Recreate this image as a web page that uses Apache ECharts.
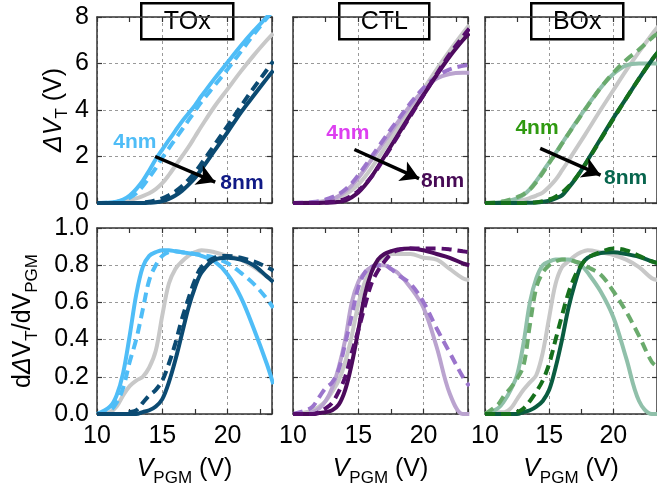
<!DOCTYPE html>
<html>
<head>
<meta charset="utf-8">
<script src="https://cdn.jsdelivr.net/npm/echarts@6/dist/echarts.min.js"></script>
<style>
  html, body { margin: 0; padding: 0; background: #fff; }
  #main { width: 657px; height: 491px; }
</style>
</head>
<body>
<div id="main"></div>
<script>
// programming voltage grid (V)
var X = [10, 11, 11.5, 12, 12.5, 13, 13.5, 14, 14.5, 15, 15.5, 16, 16.5, 17, 17.5, 18, 19, 20, 21, 22, 23, 23.5];

// TOx: delta VT (top) and d(delta VT)/dVPGM (bottom)
var toxRefTop = [0, 0, 0.02, 0.05, 0.12, 0.2, 0.3, 0.42, 0.6, 0.85, 1.2, 1.6, 2.0, 2.4, 2.85, 3.3, 4.15, 4.9, 5.65, 6.35, 7.0, 7.3];
var tox4Top   = [0, 0.02, 0.06, 0.15, 0.32, 0.6, 0.95, 1.4, 1.88, 2.3, 2.7, 3.1, 3.5, 3.85, 4.2, 4.6, 5.35, 6.05, 6.75, 7.4, 8.0, 8.3];
var tox4TopD  = [0, 0.01, 0.04, 0.1, 0.22, 0.42, 0.72, 1.1, 1.5, 1.95, 2.35, 2.75, 3.15, 3.55, 3.95, 4.35, 5.05, 5.75, 6.5, 7.25, 7.95, 8.3];
var tox8Top   = [0, 0, 0, 0, 0, 0, 0, 0.01, 0.03, 0.08, 0.18, 0.32, 0.52, 0.78, 1.08, 1.45, 2.25, 3.05, 3.88, 4.62, 5.35, 5.7];
var tox8TopD  = [0, 0, 0, 0, 0, 0, 0.02, 0.05, 0.12, 0.2, 0.33, 0.5, 0.72, 1.0, 1.32, 1.7, 2.5, 3.32, 4.15, 4.95, 5.72, 6.1];
var toxRefBot = [0, 0.01, 0.04, 0.1, 0.15, 0.18, 0.2, 0.25, 0.34, 0.53, 0.7, 0.78, 0.82, 0.85, 0.87, 0.88, 0.87, 0.85, 0.83, 0.79, 0.74, 0.72];
var tox4Bot   = [0, 0.04, 0.1, 0.22, 0.42, 0.64, 0.79, 0.85, 0.87, 0.88, 0.88, 0.875, 0.87, 0.865, 0.86, 0.85, 0.82, 0.75, 0.63, 0.46, 0.27, 0.16];
var tox4BotD  = [0, 0.02, 0.06, 0.14, 0.28, 0.4, 0.56, 0.72, 0.8, 0.85, 0.87, 0.875, 0.87, 0.865, 0.86, 0.855, 0.84, 0.81, 0.76, 0.7, 0.62, 0.57];
var tox8Bot   = [0, 0, 0, 0, 0, 0, 0.01, 0.02, 0.04, 0.08, 0.17, 0.29, 0.43, 0.57, 0.68, 0.76, 0.83, 0.84, 0.83, 0.8, 0.74, 0.71];
var tox8BotD  = [0, 0, 0, 0, 0.01, 0.02, 0.06, 0.1, 0.13, 0.18, 0.27, 0.38, 0.51, 0.62, 0.72, 0.79, 0.84, 0.85, 0.84, 0.82, 0.79, 0.77];

// CTL
var ctlRefTop = [0, 0.01, 0.03, 0.05, 0.1, 0.15, 0.25, 0.38, 0.55, 0.8, 1.12, 1.5, 1.92, 2.35, 2.78, 3.2, 4.05, 4.9, 5.75, 6.55, 7.3, 7.65];
var ctl4Top   = [0, 0.01, 0.02, 0.04, 0.08, 0.15, 0.3, 0.5, 0.75, 1.08, 1.45, 1.85, 2.25, 2.65, 3.05, 3.45, 4.2, 4.85, 5.35, 5.55, 5.6, 5.6];
var ctl4TopD  = [0, 0.02, 0.04, 0.08, 0.15, 0.25, 0.38, 0.58, 0.85, 1.2, 1.58, 1.98, 2.38, 2.78, 3.18, 3.55, 4.3, 4.95, 5.45, 5.75, 5.9, 5.95];
var ctl8Top   = [0, 0, 0, 0, 0.01, 0.02, 0.05, 0.1, 0.25, 0.45, 0.75, 1.12, 1.55, 2.0, 2.45, 2.9, 3.8, 4.65, 5.5, 6.3, 7.0, 7.3];
var ctl8TopD  = [0, 0, 0, 0, 0.02, 0.05, 0.1, 0.18, 0.32, 0.52, 0.8, 1.12, 1.5, 1.95, 2.4, 2.85, 3.75, 4.65, 5.55, 6.4, 7.15, 7.5];
var ctlRefBot = [0, 0.01, 0.02, 0.04, 0.07, 0.12, 0.18, 0.28, 0.42, 0.59, 0.71, 0.78, 0.82, 0.85, 0.86, 0.86, 0.86, 0.84, 0.83, 0.78, 0.73, 0.72];
var ctl4Bot   = [0, 0, 0.01, 0.03, 0.07, 0.14, 0.25, 0.4, 0.6, 0.71, 0.76, 0.79, 0.8, 0.8, 0.78, 0.76, 0.68, 0.57, 0.36, 0.11, 0, 0];
var ctl4BotD  = [0, 0.02, 0.04, 0.09, 0.14, 0.17, 0.24, 0.38, 0.53, 0.68, 0.76, 0.79, 0.8, 0.8, 0.78, 0.75, 0.7, 0.6, 0.46, 0.33, 0.2, 0.15];
var ctl8Bot   = [0, 0, 0, 0.005, 0.01, 0.02, 0.05, 0.13, 0.27, 0.45, 0.64, 0.76, 0.83, 0.86, 0.875, 0.885, 0.89, 0.88, 0.86, 0.84, 0.81, 0.8];
var ctl8BotD  = [0, 0, 0, 0.01, 0.03, 0.06, 0.12, 0.2, 0.33, 0.45, 0.58, 0.7, 0.77, 0.82, 0.86, 0.88, 0.89, 0.89, 0.89, 0.885, 0.875, 0.87];

// BOx
var boxRefTop = [0, 0, 0.01, 0.03, 0.07, 0.13, 0.22, 0.32, 0.45, 0.7, 1.0, 1.4, 1.82, 2.25, 2.68, 3.12, 4.0, 4.85, 5.7, 6.5, 7.25, 7.6];
var box4Top   = [0, 0.02, 0.06, 0.12, 0.2, 0.35, 0.6, 0.95, 1.35, 1.75, 2.15, 2.57, 2.98, 3.4, 3.8, 4.2, 4.95, 5.55, 5.92, 6.0, 6.0, 6.0];
var box4TopD  = [0, 0.03, 0.08, 0.15, 0.25, 0.38, 0.58, 0.9, 1.3, 1.72, 2.12, 2.55, 2.97, 3.38, 3.78, 4.18, 4.95, 5.6, 6.15, 6.6, 7.1, 7.3];
var box8Top   = [0, 0, 0, 0, 0, 0, 0.01, 0.02, 0.05, 0.1, 0.2, 0.33, 0.65, 1.0, 1.4, 1.85, 2.75, 3.65, 4.5, 5.35, 6.15, 6.5];
var box8TopD  = [0, 0, 0, 0, 0, 0, 0.01, 0.03, 0.08, 0.15, 0.27, 0.45, 0.7, 1.02, 1.4, 1.82, 2.72, 3.62, 4.5, 5.35, 6.15, 6.5];
var boxRefBot = [0, 0.01, 0.01, 0.03, 0.08, 0.13, 0.17, 0.21, 0.33, 0.52, 0.7, 0.79, 0.82, 0.85, 0.87, 0.88, 0.87, 0.855, 0.83, 0.79, 0.73, 0.72];
var box4Bot   = [0, 0.03, 0.07, 0.13, 0.21, 0.38, 0.6, 0.73, 0.8, 0.82, 0.83, 0.83, 0.83, 0.82, 0.8, 0.76, 0.66, 0.52, 0.3, 0.07, 0, 0];
var box4BotD  = [0, 0.05, 0.1, 0.14, 0.19, 0.26, 0.48, 0.68, 0.76, 0.8, 0.82, 0.83, 0.83, 0.82, 0.81, 0.79, 0.75, 0.66, 0.55, 0.42, 0.28, 0.25];
var box8Bot   = [0, 0, 0, 0, 0, 0.01, 0.02, 0.04, 0.07, 0.13, 0.25, 0.4, 0.57, 0.7, 0.8, 0.84, 0.865, 0.87, 0.86, 0.845, 0.82, 0.81];
var box8BotD  = [0, 0, 0, 0, 0.01, 0.03, 0.07, 0.12, 0.18, 0.27, 0.4, 0.53, 0.65, 0.74, 0.8, 0.84, 0.87, 0.89, 0.88, 0.85, 0.82, 0.81];

var titles = ['TOx', 'CTL', 'BOx'];

var panels = [
  { ref: [toxRefTop, toxRefBot], t4: [tox4Top, tox4Bot], t4d: [tox4TopD, tox4BotD], t8: [tox8Top, tox8Bot], t8d: [tox8TopD, tox8BotD],
    c4: '#4fbdf7', c4d: '#4fbdf7', c8: '#0b4a72', c8d: '#0b4a72', lab4: '#4fbdf7', lab8: '#101a86',
    arrow: [[14.45, 2.0], [19.05, 0.9]], p4: [12.9, 2.6], p8: [21.1, 0.85] },
  { ref: [ctlRefTop, ctlRefBot], t4: [ctl4Top, ctl4Bot], t4d: [ctl4TopD, ctl4BotD], t8: [ctl8Top, ctl8Bot], t8d: [ctl8TopD, ctl8BotD],
    c4: '#baa3cf', c4d: '#9b74cc', c8: '#4c0a5c', c8d: '#560d6c', lab4: '#dd3ff0', lab8: '#470a55',
    arrow: [[14.7, 2.3], [19.65, 1.05]], p4: [14.2, 3.0], p8: [21.45, 0.92] },
  { ref: [boxRefTop, boxRefBot], t4: [box4Top, box4Bot], t4d: [box4TopD, box4BotD], t8: [box8Top, box8Bot], t8d: [box8TopD, box8BotD],
    c4: '#90c0aa', c4d: '#6aaa6c', c8: '#0a5c40', c8d: '#16701c', lab4: '#2f9a10', lab8: '#07654d',
    arrow: [[14.3, 2.35], [19.0, 1.2]], p4: [14.05, 3.2], p8: [20.95, 1.06] }
];

var lefts = [97, 293, 485];
var W = 175, H = 186;
var FONT = 'Liberation Sans, Arial, sans-serif';

var myChart = echarts.init(document.getElementById('main'));

var grid = [], xAxis = [], yAxis = [], series = [], graphic = [];

function pairs(arr) {
  return X.map(function (x, k) { return [x, arr[k]]; });
}

var nameRich = {
  i: { fontSize: 25, fontStyle: 'italic', fontFamily: FONT, color: '#000', lineHeight: 30, verticalAlign: 'top' },
  s: { fontSize: 17, fontFamily: FONT, color: '#000', lineHeight: 18, verticalAlign: 'bottom' },
  n: { fontSize: 25, fontFamily: FONT, color: '#000', lineHeight: 30, verticalAlign: 'top' }
};

for (var r = 0; r < 2; r++) {
  for (var c = 0; c < 3; c++) {
    var g = r * 3 + c;
    grid.push({ left: lefts[c], top: r === 0 ? 17 : 228, width: W, height: H });
    var bottomRow = r === 1;
    // main x axis: labels + split lines
    xAxis.push({
      type: 'value', gridIndex: g, min: 10, max: 23.4, interval: 5, position: 'bottom',
      axisLine: { show: true, lineStyle: { color: '#333', width: 1.5 } },
      axisTick: { show: false },
      axisLabel: { show: bottomRow, showMaxLabel: false, color: '#000', fontSize: 25, fontFamily: FONT, margin: 10 },
      splitLine: { show: true, lineStyle: { color: '#999', type: [3, 3], width: 1 } },
      name: bottomRow ? '{i|V}{s|PGM}{n| (V)}' : '',
      nameLocation: 'middle', nameGap: 43,
      nameTextStyle: { rich: nameRich }
    });
    // minor ticks bottom
    xAxis.push({
      type: 'value', gridIndex: g, min: 10, max: 23.4, interval: 2.5, position: 'bottom',
      axisLine: { show: false }, axisLabel: { show: false }, splitLine: { show: false },
      axisTick: { show: true, inside: true, length: 5, lineStyle: { color: '#333', width: 1.2 } }
    });
    // mirror top
    xAxis.push({
      type: 'value', gridIndex: g, min: 10, max: 23.4, interval: 2.5, position: 'top',
      axisLine: { show: true, lineStyle: { color: '#333', width: 1.5 } },
      axisLabel: { show: false }, splitLine: { show: false },
      axisTick: { show: true, inside: true, length: 5, lineStyle: { color: '#333', width: 1.2 } }
    });

    var first = c === 0;
    var yName = '';
    if (first && !bottomRow) yName = '{i|ΔV}{s|T}{n| (V)}';
    if (first && bottomRow) yName = '{n|d}{i|Δ}{n|V}{s|T}{n|/dV}{s|PGM}';
    yAxis.push({
      type: 'value', gridIndex: g, min: 0, max: bottomRow ? 1 : 8, interval: bottomRow ? 0.2 : 2, position: 'left',
      axisLine: { show: true, lineStyle: { color: '#333', width: 1.5 } },
      axisTick: { show: true, inside: true, length: 5, lineStyle: { color: '#333', width: 1.2 } },
      axisLabel: {
        show: first, color: '#000', fontSize: 25, fontFamily: FONT, margin: 8,
        formatter: bottomRow ? function (v) { return v.toFixed(1); } : function (v) { return String(v); }
      },
      splitLine: { show: true, lineStyle: { color: '#999', type: [3, 3], width: 1 } },
      name: yName, nameLocation: 'middle', nameRotate: 90,
      nameGap: bottomRow ? 56 : 22,
      nameTextStyle: { rich: nameRich }
    });
    yAxis.push({
      type: 'value', gridIndex: g, min: 0, max: bottomRow ? 1 : 8, interval: bottomRow ? 0.2 : 2, position: 'right',
      axisLine: { show: true, lineStyle: { color: '#333', width: 1.5 } },
      axisTick: { show: true, inside: true, length: 5, lineStyle: { color: '#333', width: 1.2 } },
      axisLabel: { show: false }, splitLine: { show: false }
    });

    var p = panels[c];
    var xi = g * 3, yi = g * 2;
    var defs = [
      { d: p.ref[r], color: '#c8c8c8', dash: false },
      { d: p.t4[r], color: p.c4, dash: false },
      { d: p.t4d[r], color: p.c4d, dash: true },
      { d: p.t8[r], color: p.c8, dash: false },
      { d: p.t8d[r], color: p.c8d, dash: true }
    ];
    defs.forEach(function (s) {
      series.push({
        type: 'line', xAxisIndex: xi, yAxisIndex: yi, data: pairs(s.d),
        smooth: 0.35, showSymbol: false, silent: true, clip: true,
        lineStyle: { color: s.color, width: 4, type: s.dash ? [10, 6] : 'solid' }
      });
    });

    if (!bottomRow) {
      // arrow 4nm -> 8nm
      series.push({
        type: 'line', xAxisIndex: xi, yAxisIndex: yi, data: [], silent: true,
        markLine: {
          silent: true, symbol: ['none', 'arrow'], symbolSize: [16, 18],
          lineStyle: { color: '#000', width: 3.5, type: 'solid' },
          label: { show: false },
          data: [[{ coord: p.arrow[0] }, { coord: p.arrow[1] }]]
        }
      });
      series.push({
        type: 'scatter', xAxisIndex: xi, yAxisIndex: yi, symbolSize: 1, silent: true, z: 10,
        itemStyle: { color: 'rgba(0,0,0,0)' },
        label: {
          show: true, position: 'inside', fontSize: 21, fontWeight: 'bold', fontFamily: FONT,
          textBorderWidth: 0, textShadowBlur: 0, opacity: 1,
          formatter: function (q) { return q.value[2]; }
        },
        data: [
          { value: [p.p4[0], p.p4[1], '4nm'], label: { color: p.lab4, textBorderWidth: 0 } },
          { value: [p.p8[0], p.p8[1], '8nm'], label: { color: p.lab8, textBorderWidth: 0 } }
        ]
      });
    }
  }
}

// panel title boxes
var boxes = [[140, 92], [338, 90], [530, 92]];
boxes.forEach(function (b, i) {
  graphic.push({
    type: 'group', left: b[0], top: 2, z: 100,
    children: [
      { type: 'rect', shape: { x: 0, y: 0, width: b[1], height: 36 }, style: { fill: '#fff', stroke: '#000', lineWidth: 2.5 } },
      { type: 'text', x: b[1] / 2, y: 19, style: { text: titles[i], fontSize: 25, fontFamily: FONT, fill: '#000', align: 'center', verticalAlign: 'middle' } }
    ]
  });
});

var option = {
  backgroundColor: '#fff',
  animation: false,
  grid: grid,
  xAxis: xAxis,
  yAxis: yAxis,
  series: series,
  graphic: graphic
};

option && myChart.setOption(option);
</script>
</body>
</html>
